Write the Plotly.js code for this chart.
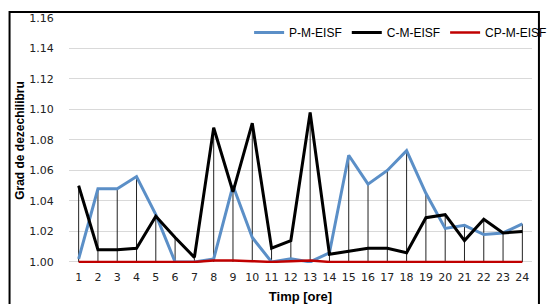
<!DOCTYPE html>
<html>
<head>
<meta charset="utf-8">
<script src="https://cdn.plot.ly/plotly-3.0.1.min.js"></script>
<style>html,body{margin:0;padding:0;background:#fff;}#chart{width:555px;height:304px;}</style>
</head>
<body>
<div id="chart"></div>
<script>
var hours = [1,2,3,4,5,6,7,8,9,10,11,12,13,14,15,16,17,18,19,20,21,22,23,24];
var pSeries = [1.002,1.048,1.048,1.056,1.031,1.000,1.000,1.002,1.050,1.016,1.000,1.002,1.000,1.006,1.070,1.051,1.060,1.073,1.045,1.022,1.024,1.018,1.019,1.025];
var cSeries = [1.050,1.008,1.008,1.009,1.030,1.016,1.003,1.088,1.046,1.091,1.009,1.014,1.098,1.005,1.007,1.009,1.009,1.006,1.029,1.031,1.014,1.028,1.019,1.020];
var cpSeries = [1.000,1.000,1.000,1.000,1.000,1.000,1.000,1.001,1.001,1.0005,1.000,1.0005,1.001,1.000,1.000,1.000,1.000,1.000,1.000,1.000,1.000,1.000,1.000,1.000];
var seriesNames = ['P-M-EISF','C-M-EISF','CP-M-EISF'];
var yTicks = [1.00,1.02,1.04,1.06,1.08,1.10,1.12,1.14,1.16];
var baseValue = 1.00;

// drop lines from the highest series value down to the base
var dropX = [], dropY = [];
hours.forEach(function(h, i){
  var top = Math.max(pSeries[i], cSeries[i], cpSeries[i]);
  dropX.push(h, h, null);
  dropY.push(baseValue, top, null);
});

var traces = [
  {x: dropX, y: dropY, mode: 'lines', line: {color: '#222', width: 1}, showlegend: false, hoverinfo: 'skip'},
  {x: hours, y: pSeries, name: seriesNames[0], mode: 'lines', line: {color: '#5b8fc7', width: 3}},
  {x: hours, y: cSeries, name: seriesNames[1], mode: 'lines', line: {color: '#000000', width: 3}},
  {x: hours, y: cpSeries, name: seriesNames[2], mode: 'lines', line: {color: '#c00000', width: 2.5}}
];

var layout = {
  width: 555, height: 304,
  margin: {l: 69, r: 3, t: 18, b: 41},
  paper_bgcolor: '#fff', plot_bgcolor: '#fff',
  showlegend: true,
  legend: {orientation: 'h', x: 0.389, xanchor: 'left', y: 1.0, yanchor: 'top',
           font: {family: 'Liberation Sans, Arial, sans-serif', size: 12, color: '#000'},
           bgcolor: 'rgba(0,0,0,0)'},
  xaxis: {
    range: [0.5, 24.5], tickmode: 'array', tickvals: hours, ticktext: hours.map(String),
    showgrid: false, zeroline: false, showline: false,
    ticks: 'outside', ticklen: 4, tickcolor: 'rgba(0,0,0,0)',
    tickfont: {family: 'DejaVu Sans, Verdana, sans-serif', size: 11, color: '#222'},
    title: {text: 'Timp [ore]', font: {family: 'Liberation Sans, Arial, sans-serif', size: 13, color: '#000', weight: 'bold'}, standoff: 11}
  },
  yaxis: {
    range: [0.9993, 1.16], tickmode: 'array', tickvals: yTicks, ticktext: yTicks.map(function(v){return v.toFixed(2);}),
    showgrid: true, gridcolor: '#d9d9d9', gridwidth: 1, zeroline: false, showline: false,
    ticks: 'outside', ticklen: 12, tickcolor: 'rgba(0,0,0,0)',
    tickfont: {family: 'DejaVu Sans, Verdana, sans-serif', size: 11, color: '#222'},
    title: {text: 'Grad de dezechilibru', font: {family: 'Liberation Sans, Arial, sans-serif', size: 12, color: '#000', weight: 'bold'}}
  },
  shapes: [
    {type: 'rect', xref: 'paper', yref: 'paper', x0: -0.1284, x1: 1.015, y0: -0.2, y1: 1.0245,
     line: {color: '#000', width: 2}, fillcolor: 'rgba(0,0,0,0)', layer: 'above'}
  ]
};

Plotly.newPlot('chart', traces, layout, {staticPlot: true, displayModeBar: false});
</script>
</body>
</html>
